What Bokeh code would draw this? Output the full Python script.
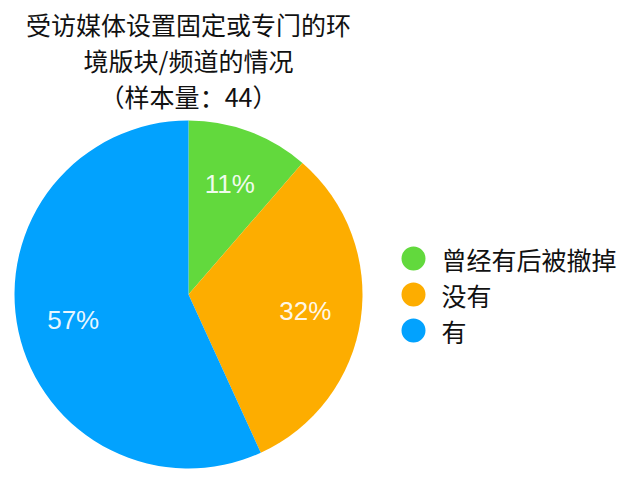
import math
from bokeh.plotting import figure
from bokeh.models import Range1d, ColumnDataSource
from bokeh.core.properties import value
from bokeh.embed import file_html
from bokeh.resources import INLINE

# ---- data ----
title_lines = ["受访媒体设置固定或专门的环", "境版块/频道的情况", "（样本量：44）"]
categories = ["曾经有后被撤掉", "没有", "有"]
counts = [5, 14, 25]          # of 44 respondents -> 11%, 32%, 57%
sample_size = 44
colors = ["#62d93d", "#fdad00", "#02a2fe"]

# ---- layout (pixels of the figure) ----
W, H = 642, 479
cx, cy, R = 188, 185, 174
label_r = 118
legend_x, legend_text_x, legend_dy = 413, 441, 36
title_y0, title_dy = 456, 36

p = figure(width=W, height=H, x_range=Range1d(0, W), y_range=Range1d(0, H),
           x_axis_type=None, y_axis_type=None, toolbar_location=None,
           output_backend="svg", min_border=0)
p.grid.visible = False
p.outline_line_color = None
p.background_fill_color = "white"
p.border_fill_color = "white"

total = sum(counts)
starts, ends, lx, ly, labels = [], [], [], [], []
cum = 0
for c in counts:
    a0 = math.pi / 2 - 2 * math.pi * cum / total
    cum += c
    a1 = math.pi / 2 - 2 * math.pi * cum / total
    starts.append(a0)
    ends.append(a1)
    mid = (a0 + a1) / 2
    lx.append(cx + label_r * math.cos(mid))
    ly.append(cy + label_r * math.sin(mid))
    labels.append(f"{round(100 * c / sample_size)}%")

src = ColumnDataSource(dict(start=starts, end=ends, color=colors))
p.wedge(x=cx, y=cy, radius=R, start_angle="start", end_angle="end",
        direction="clock", fill_color="color", line_color=None, source=src)

p.text(x=lx, y=ly, text=labels, text_font=value("Liberation Sans"),
       text_font_size="26px", text_color="white", text_alpha=0.92,
       text_align="center", text_baseline="middle")

# title
p.text(x=[cx] * len(title_lines),
       y=[title_y0 - i * title_dy for i in range(len(title_lines))],
       text=title_lines, text_font=value("Noto Sans CJK SC"),
       text_font_size="25px", text_color="#111111",
       text_align="center", text_baseline="middle")

# legend
n = len(categories)
leg_y = [cy + ((n - 1) / 2 - i) * legend_dy for i in range(n)]
p.scatter(x=[legend_x] * n, y=leg_y, size=24, marker="circle",
          fill_color=colors, line_color=None)
p.text(x=[legend_text_x] * n, y=leg_y, text=categories,
       text_font=value("Noto Sans CJK SC"), text_font_size="25px",
       text_color="#111111", text_align="left", text_baseline="middle")

open("out.html", "w").write(file_html(p, INLINE))
